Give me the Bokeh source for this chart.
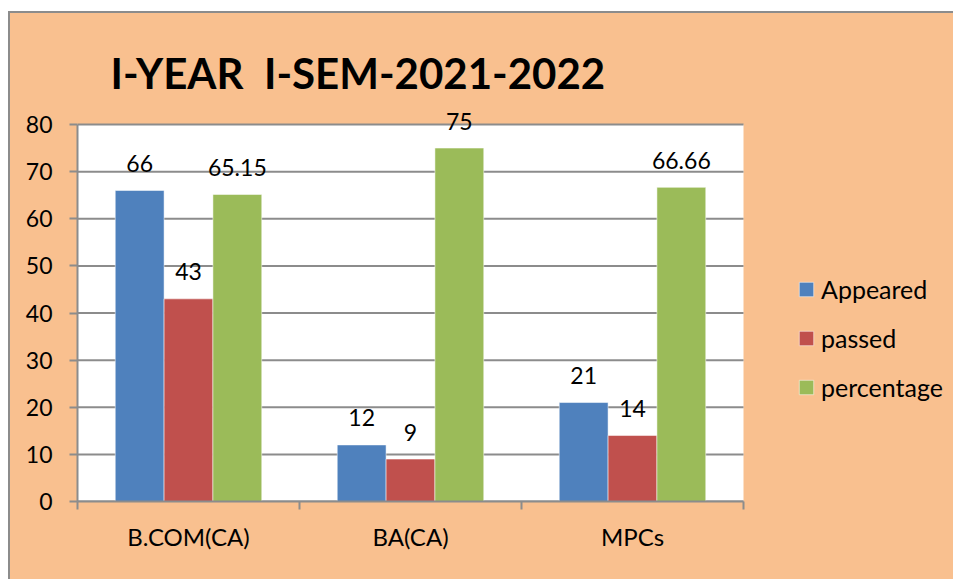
import numpy as np
from bokeh.plotting import figure
from bokeh.core.properties import value
from bokeh.models import (ColumnDataSource, FixedTicker, LabelSet, Label, Legend,
                          LegendItem, Range1d)
from bokeh.transform import dodge
from bokeh.embed import file_html
from bokeh.resources import INLINE

categories = ["B.COM(CA)", "BA(CA)", "MPCs"]
appeared = [66, 12, 21]
passed = [43, 9, 14]
percentage = [65.15, 75, 66.66]
series_names = ["Appeared", "passed", "percentage"]
series_colors = ["#4F81BD", "#C0504D", "#9BBB59"]
y_ticks = [0, 10, 20, 30, 40, 50, 60, 70, 80]
y_max = 80
title_text = "I-YEAR\u00a0 I-SEM-2021-2022"

FONT = "Lato"
BG = "#F9C08F"
GRAY = "#8C8C8C"

# ---- layout (pixels, relative to figure content box) ----
W, H = 945, 568
FL, FB, FR_BORDER, FT_BORDER = 67, 80, 0, 20
PLOT_W_PX = 666          # width of the white plot area
PLOT_H_PX = 377          # height of the white plot area (0..80)
ncat = len(categories)
frame_w = W - FL - FR_BORDER
frame_h = H - FT_BORDER - FB
x_end = ncat * frame_w / PLOT_W_PX
y_top = y_max * frame_h / PLOT_H_PX
px_x = PLOT_W_PX / ncat
px_y = PLOT_H_PX / y_max

centers = np.arange(ncat) + 0.5
src = ColumnDataSource(dict(
    x=centers,
    appeared=appeared, passed=passed, percentage=percentage,
    appeared_t=[f"{v:g}" for v in appeared],
    passed_t=[f"{v:g}" for v in passed],
    percentage_t=[f"{v:g}" for v in percentage],
))

p = figure(width=W, height=H, output_backend="svg", toolbar_location=None,
           x_range=Range1d(0, x_end), y_range=Range1d(0, y_top),
           min_border_left=FL, min_border_right=FR_BORDER, min_border_top=FT_BORDER,
           min_border_bottom=FB)
p.margin = (11, 0, 0, 8)
p.styles = {"border-left": f"2px solid {GRAY}", "border-top": f"2px solid {GRAY}",
            "background-color": BG}
p.background_fill_color = BG
p.border_fill_color = BG
p.outline_line_color = None

# white plot area from 0 to the top tick
p.quad(left=0, right=ncat, bottom=0, top=y_max,
       fill_color="white", line_color=None, level="image")
# horizontal gridlines across the plot area only
p.segment(x0=[0] * len(y_ticks), x1=[ncat] * len(y_ticks), y0=y_ticks, y1=y_ticks,
          line_color=GRAY, line_width=2, level="underlay")

bw = 0.22
offsets = [-bw, 0.0, bw]
keys = ["appeared", "passed", "percentage"]
items = []
for k, name, col, off in zip(keys, series_names, series_colors, offsets):
    r = p.vbar(x=dodge("x", off, range=p.x_range), top=k, width=bw, source=src,
               fill_color=col, line_color="white", line_alpha=0.5, line_width=1)
    items.append(LegendItem(label=name, renderers=[r]))
    lab = LabelSet(x=dodge("x", off, range=p.x_range), y=k, text=k + "_t", source=src,
                   y_offset=27, text_align="center", text_baseline="middle",
                   text_font=value(FONT), text_font_size=value("23px"),
                   text_color="black")
    p.add_layout(lab)

legend = Legend(items=items, location=(720, 99), padding=0, margin=0,
                glyph_width=18, glyph_height=18, label_height=22, spacing=19,
                label_standoff=6, label_text_font=FONT, label_text_font_size="25px",
                label_text_color="black",
                border_line_alpha=0, background_fill_alpha=0)
p.add_layout(legend, "center")

p.add_layout(Label(x=33 / px_x, y=(501 - 72) / px_y, text=title_text, text_font=FONT,
                   text_font_size="42px", text_font_style="bold",
                   text_baseline="middle", text_color="black"))

# axes
p.yaxis.ticker = FixedTicker(ticks=y_ticks)
p.yaxis.bounds = (0, y_max)
p.yaxis.major_tick_out = 8
p.yaxis.major_tick_in = 0
p.yaxis.minor_tick_out = 0
p.yaxis.minor_tick_in = 0
p.yaxis.major_label_standoff = 17
p.yaxis.major_label_text_font = FONT
p.yaxis.major_label_text_font_size = "23px"
p.yaxis.major_label_text_color = "black"

p.xaxis.ticker = FixedTicker(ticks=list(centers), minor_ticks=list(range(ncat + 1)))
p.xaxis.bounds = (0, ncat)
p.xaxis.major_label_overrides = {float(c): n for c, n in zip(centers, categories)}
p.xaxis.major_tick_out = 0
p.xaxis.major_tick_in = 0
p.xaxis.minor_tick_out = 8
p.xaxis.minor_tick_in = 0
p.xaxis.major_label_standoff = 12
p.xaxis.major_label_text_font = FONT
p.xaxis.major_label_text_font_size = "24px"
p.xaxis.major_label_text_color = "black"

for ax in (p.xaxis, p.yaxis):
    ax.axis_line_color = GRAY
    ax.axis_line_width = 2
    ax.major_tick_line_color = GRAY
    ax.major_tick_line_width = 2
    ax.minor_tick_line_color = GRAY
    ax.minor_tick_line_width = 2

p.xgrid.visible = False
p.ygrid.visible = False

open("out.html", "w").write(file_html(p, INLINE))
